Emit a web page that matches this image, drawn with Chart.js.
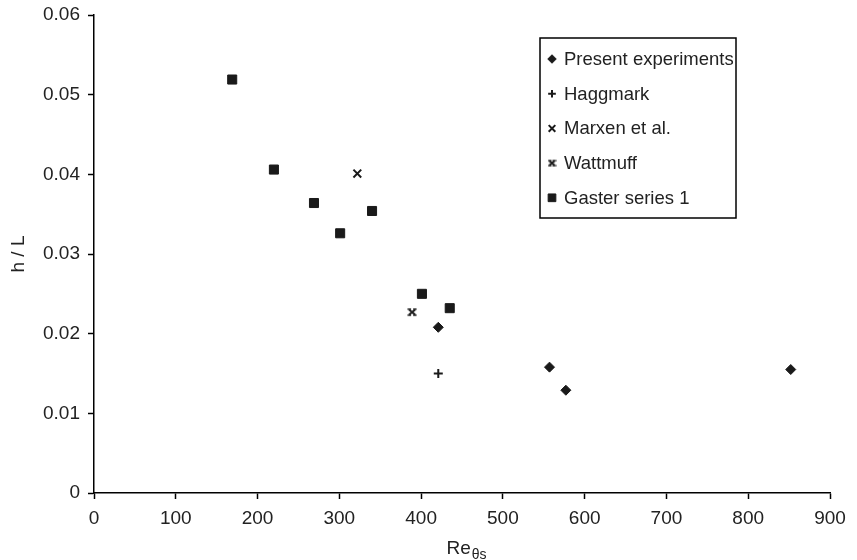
<!DOCTYPE html>
<html>
<head>
<meta charset="utf-8">
<script src="https://cdn.jsdelivr.net/npm/chart.js@4/dist/chart.umd.min.js"></script>
<style>
  html, body { margin: 0; padding: 0; background: #fff; }
  #wrap { width: 857px; height: 560px; }
</style>
</head>
<body>
<div id="wrap"><canvas id="chart"></canvas></div>
<script>
// Data
const presentX = [421, 557, 577, 852];
const presentY = [0.0208, 0.0158, 0.0129, 0.0155];
const haggmarkX = [421];
const haggmarkY = [0.0150];
const marxenX = [322];
const marxenY = [0.0401];
const wattmuffX = [389];
const wattmuffY = [0.0227];
const gasterX = [169, 220, 269, 301, 340, 401, 435];
const gasterY = [0.0519, 0.0406, 0.0364, 0.0326, 0.0354, 0.0250, 0.0232];

const xTicks = [0, 100, 200, 300, 400, 500, 600, 700, 800, 900];
const yTicks = [0, 0.01, 0.02, 0.03, 0.04, 0.05, 0.06];

const INK = '#1a1a1a';
const TEXT = '#222';
const FONT = 'Liberation Sans, Arial, sans-serif';

function pts(xs, ys) {
    return xs.map((x, i) => ({ x: x, y: ys[i] }));
}

// Wattmuff marker: a bold x with little horizontal serifs
function serifX(size) {
    const c = document.createElement('canvas');
    c.width = size; c.height = size;
    const g = c.getContext('2d');
    const a = 2, b = size - 2;
    g.strokeStyle = INK;
    g.lineWidth = 2;
    g.beginPath();
    g.moveTo(a, a + 0.5); g.lineTo(b, b - 0.5);
    g.moveTo(b, a + 0.5); g.lineTo(a, b - 0.5);
    g.stroke();
    g.lineWidth = 1.6;
    g.beginPath();
    g.moveTo(0.5, a); g.lineTo(a + 2, a);
    g.moveTo(b - 2, a); g.lineTo(size - 0.5, a);
    g.moveTo(0.5, b); g.lineTo(a + 2, b);
    g.moveTo(b - 2, b); g.lineTo(size - 0.5, b);
    g.stroke();
    return c;
}
const wattImg = serifX(10);
const wattLegend = serifX(9);

const datasets = [
    { label: 'Present experiments', data: pts(presentX, presentY), pointStyle: 'rectRot', pointRadius: 5, borderWidth: 1 },
    { label: 'Haggmark', data: pts(haggmarkX, haggmarkY), pointStyle: 'cross', pointRadius: 4.5, borderWidth: 2 },
    { label: 'Marxen et al.', data: pts(marxenX, marxenY), pointStyle: 'crossRot', pointRadius: 5.5, borderWidth: 2 },
    { label: 'Wattmuff', data: pts(wattmuffX, wattmuffY), pointStyle: wattImg, pointRadius: 5, borderWidth: 0 },
    { label: 'Gaster series 1', data: pts(gasterX, gasterY), pointStyle: 'rect', pointRadius: 6.4, borderWidth: 1 }
];
datasets.forEach(d => {
    d.backgroundColor = INK;
    d.borderColor = INK;
    d.pointHoverRadius = d.pointRadius;
    d.showLine = false;
});

// Boxed legend inside the plot, plus the subscripted x-axis title
const extras = {
    id: 'extras',
    afterDraw(chart) {
        const ctx = chart.ctx;
        const area = chart.chartArea;
        ctx.save();

        // legend box
        const bx = 540, by = 38, bw = 196, bh = 180;
        ctx.strokeStyle = '#000';
        ctx.lineWidth = 1.5;
        ctx.strokeRect(bx, by, bw, bh);
        ctx.font = '18.5px ' + FONT;
        ctx.textBaseline = 'middle';
        chart.data.datasets.forEach((d, i) => {
            const y = 59 + i * 34.7;
            ctx.fillStyle = INK;
            ctx.strokeStyle = INK;
            ctx.lineWidth = d.borderWidth || 1;
            Chart.helpers.drawPoint(ctx, {
                pointStyle: d.pointStyle === wattImg ? wattLegend : d.pointStyle,
                radius: d.pointRadius * 0.85,
                rotation: 0,
                borderWidth: d.borderWidth
            }, 552, y);
            ctx.fillStyle = TEXT;
            ctx.fillText(d.label, 564, y + 1);
        });

        // x title: Re with subscript theta-s
        ctx.fillStyle = TEXT;
        ctx.textBaseline = 'alphabetic';
        ctx.font = '19px ' + FONT;
        const main = 'Re';
        const mw = ctx.measureText(main).width;
        ctx.font = '14px ' + FONT;
        const sub = '\u03b8s';
        const sw = ctx.measureText(sub).width;
        const cx = (area.left + area.right) / 2 + 4;
        const x0 = cx - (mw + sw) / 2;
        ctx.font = '19px ' + FONT;
        ctx.fillText(main, x0, 554);
        ctx.font = '14px ' + FONT;
        ctx.fillText(sub, x0 + mw + 1, 559);
        ctx.restore();
    }
};

new Chart(document.getElementById('chart'), {
    type: 'scatter',
    data: { datasets: datasets },
    options: {
        responsive: true,
        maintainAspectRatio: false,
        animation: false,
        layout: { padding: { top: 15, right: 27, left: 0, bottom: 0 } },
        plugins: {
            legend: { display: false },
            tooltip: { enabled: false }
        },
        scales: {
            x: {
                type: 'linear',
                min: 0,
                max: 900,
                afterFit(scale) { scale.height = 67; },
                afterBuildTicks(scale) { scale.ticks = xTicks.map(v => ({ value: v })); },
                grid: { drawOnChartArea: false, drawTicks: true, tickLength: 6, tickColor: '#000', tickWidth: 1.5 },
                border: { display: true, color: '#000', width: 1.5 },
                ticks: { color: TEXT, font: { family: FONT, size: 19 }, padding: 8, maxRotation: 0 }
            },
            y: {
                min: 0,
                max: 0.06,
                afterFit(scale) {
                    scale.width = 94;
                    scale.paddingTop = 0;
                    scale.paddingBottom = 0;
                },
                afterBuildTicks(scale) { scale.ticks = yTicks.map(v => ({ value: v })); },
                grid: { drawOnChartArea: false, drawTicks: true, tickLength: 6, tickColor: '#000', tickWidth: 1.5 },
                border: { display: true, color: '#000', width: 1.5 },
                ticks: {
                    color: TEXT,
                    font: { family: FONT, size: 19 },
                    padding: 8,
                    callback: v => (v === 0 ? '0' : v.toFixed(2))
                },
                title: { display: true, text: 'h / L', color: TEXT, font: { family: FONT, size: 19 }, padding: { top: 7, bottom: 0 } }
            }
        }
    },
    plugins: [extras]
});
</script>
</body>
</html>
